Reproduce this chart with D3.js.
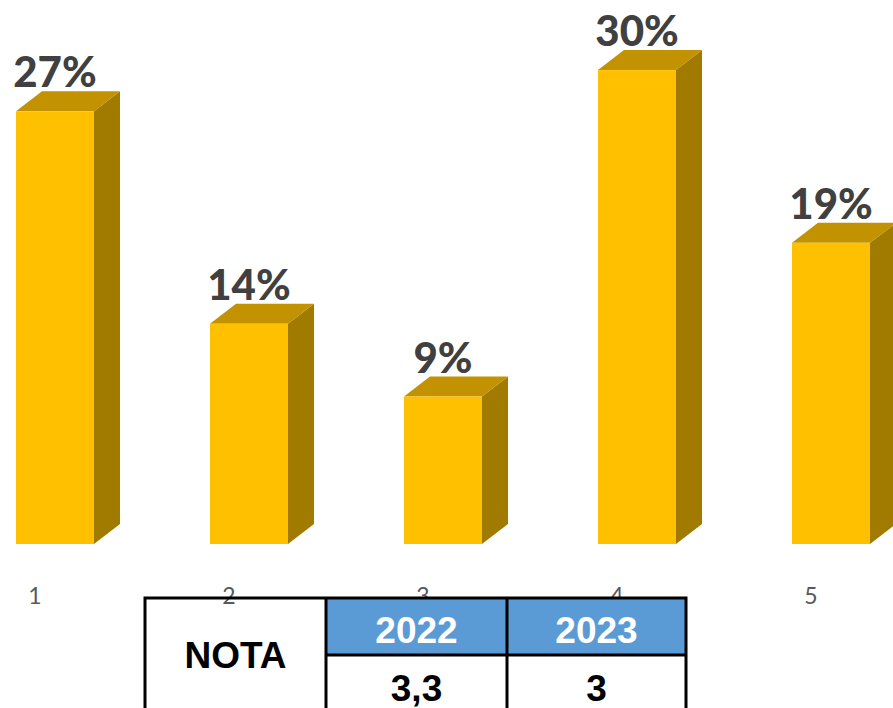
<!DOCTYPE html>
<html>
<head>
<meta charset="utf-8">
<script src="https://cdn.jsdelivr.net/npm/d3@7"></script>
<style>
  html, body { margin: 0; padding: 0; background: #ffffff; }
  svg { display: block; }
</style>
</head>
<body>
<div id="chart"></div>
<script>
// data
const categories = ["1", "2", "3", "4", "5"];
const shares = [27.3, 13.9, 9.3, 29.9, 19.0];
const tableYears = ["2022", "2023"];
const tableNotes = ["3,3", "3"];
const tableLabel = "NOTA";

const width = 893, height = 708;
const depthX = 26, depthY = 20;

const svg = d3.select("#chart")
    .append("svg")
    .attr("width", width)
    .attr("height", height);

const x = d3.scaleBand()
    .domain(categories)
    .range([16, 870])
    .paddingInner(0.598)
    .paddingOuter(0);

const y = d3.scaleLinear()
    .domain([0, 30])
    .range([544, 68.5]);

const bars = svg.selectAll(".bar")
    .data(categories.map((c, i) => ({ cat: c, value: shares[i] })))
    .enter()
    .append("g")
    .attr("class", "bar");

// side face
bars.append("path")
    .attr("d", d => {
        const x1 = x(d.cat) + x.bandwidth();
        const top = y(d.value), base = y(0);
        return `M${x1},${top} L${x1 + depthX},${top - depthY} L${x1 + depthX},${base - depthY} L${x1},${base} Z`;
    })
    .attr("fill", "#A07B00");

// top face
bars.append("path")
    .attr("d", d => {
        const x0 = x(d.cat), x1 = x0 + x.bandwidth();
        const top = y(d.value);
        return `M${x0},${top} L${x0 + depthX},${top - depthY} L${x1 + depthX},${top - depthY} L${x1},${top} Z`;
    })
    .attr("fill", "#C29200");

// front face
bars.append("rect")
    .attr("x", d => x(d.cat))
    .attr("y", d => y(d.value))
    .attr("width", x.bandwidth())
    .attr("height", d => y(0) - y(d.value))
    .attr("fill", "#FFC000");

bars.append("text")
    .attr("x", d => x(d.cat) + x.bandwidth() / 2)
    .attr("y", d => y(d.value) - depthY - 4)
    .attr("text-anchor", "middle")
    .style("font-family", "Lato, 'Open Sans', sans-serif")
    .style("font-weight", "900")
    .style("font-size", "42px")
    .style("fill", "#404040")
    .text(d => Math.round(d.value) + "%");

// category labels
svg.selectAll(".cat-label")
    .data(categories)
    .enter().append("text")
    .attr("class", "cat-label")
    .attr("x", d => x(d) + x.bandwidth() / 2 - 20)
    .attr("y", 604)
    .attr("text-anchor", "middle")
    .style("font-family", "Lato, 'Open Sans', sans-serif")
    .style("font-size", "23px")
    .style("fill", "#595959")
    .text(d => d);

// table under the chart
const table = svg.append("g").attr("class", "nota-table");
const colX = [145, 326, 507, 686];
const rowY = [598, 655, 712];
const narrow = "'Liberation Sans Narrow', 'Arial Narrow', 'Liberation Sans', Arial, sans-serif";

table.selectAll(".head")
    .data(tableYears)
    .enter().append("rect")
    .attr("x", (d, i) => colX[i + 1])
    .attr("y", rowY[0])
    .attr("width", (d, i) => colX[i + 2] - colX[i + 1])
    .attr("height", rowY[1] - rowY[0])
    .attr("fill", "#5B9BD5");

table.append("rect")
    .attr("x", colX[0])
    .attr("y", rowY[0])
    .attr("width", colX[3] - colX[0])
    .attr("height", rowY[2] - rowY[0])
    .attr("fill", "none")
    .attr("stroke", "#000")
    .attr("stroke-width", 3);

table.append("line")
    .attr("x1", colX[1]).attr("x2", colX[3])
    .attr("y1", rowY[1]).attr("y2", rowY[1])
    .attr("stroke", "#000").attr("stroke-width", 3);

table.selectAll(".vline")
    .data([colX[1], colX[2]])
    .enter().append("line")
    .attr("x1", d => d).attr("x2", d => d)
    .attr("y1", rowY[0]).attr("y2", rowY[2])
    .attr("stroke", "#000").attr("stroke-width", 3);

table.selectAll(".year")
    .data(tableYears)
    .enter().append("text")
    .attr("x", (d, i) => (colX[i + 1] + colX[i + 2]) / 2)
    .attr("y", 643)
    .attr("text-anchor", "middle")
    .style("font-family", narrow)
    .style("font-weight", "bold")
    .style("font-size", "37px")
    .style("fill", "#ffffff")
    .text(d => d);

table.selectAll(".note")
    .data(tableNotes)
    .enter().append("text")
    .attr("x", (d, i) => (colX[i + 1] + colX[i + 2]) / 2)
    .attr("y", 701)
    .attr("text-anchor", "middle")
    .style("font-family", narrow)
    .style("font-weight", "bold")
    .style("font-size", "37px")
    .style("fill", "#000000")
    .text(d => d);

table.append("text")
    .attr("x", (colX[0] + colX[1]) / 2)
    .attr("y", 668)
    .attr("text-anchor", "middle")
    .style("font-family", narrow)
    .style("font-weight", "bold")
    .style("font-size", "37px")
    .style("fill", "#000000")
    .text(tableLabel);
</script>
</body>
</html>
